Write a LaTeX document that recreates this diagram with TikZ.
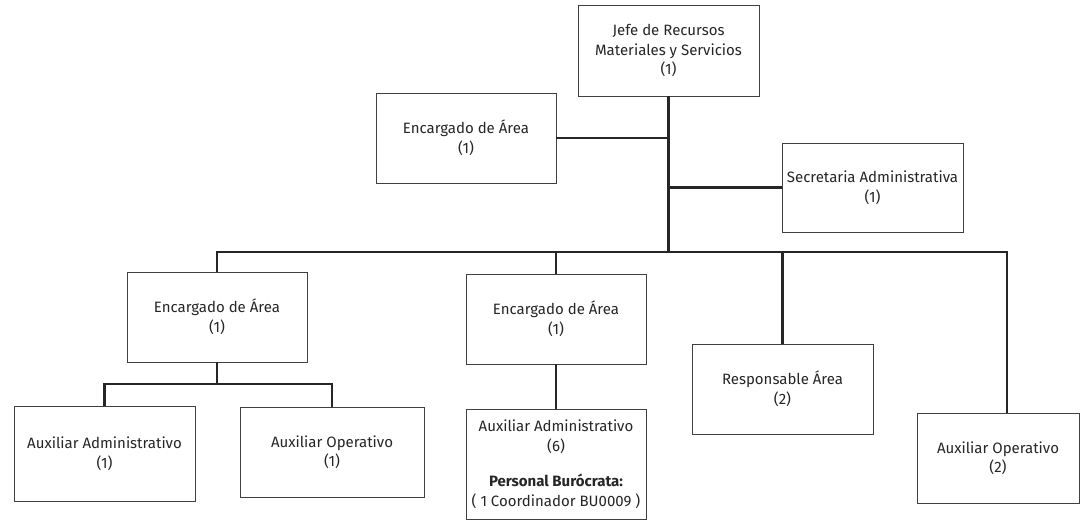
\documentclass[tikz,border=0pt]{standalone}
\usepackage{fontspec}
\setmainfont{Fira Sans}
\begin{document}
\begin{tikzpicture}[x=1pt,y=-1pt,
  box/.style={draw=black!75, line width=0.9pt, rectangle, align=center, font=\fontsize{15}{19.5}\selectfont, text=black!85, inner sep=0pt},
  conn/.style={draw=black!85, line width=2.2pt}]
\useasboundingbox[fill=white] (0,0) rectangle (1082,521);
\node[box, minimum width=181pt, minimum height=91pt] (jefe) at (668.5,50.5) {Jefe de Recursos\\Materiales y Servicios\\(1)};
\node[box, minimum width=180pt, minimum height=90pt] (encA) at (466,138) {Encargado de Área\\(1)};
\node[box, minimum width=181pt, minimum height=89pt] (secre) at (872.5,187.5) {Secretaria Administrativa\\(1)};
\node[box, minimum width=180pt, minimum height=90pt] (encL) at (217,317) {Encargado de Área\\(1)};
\node[box, minimum width=180pt, minimum height=90pt] (encM) at (556,319) {Encargado de Área\\(1)};
\node[box, minimum width=181pt, minimum height=90pt] (resp) at (782.5,389) {Responsable Área\\(2)};
\node[box, minimum width=162pt, minimum height=90pt] (auxOp2) at (998,458) {Auxiliar Operativo\\(2)};
\node[box, minimum width=181pt, minimum height=95pt] (auxAdm1) at (104.5,453.5) {Auxiliar Administrativo\\(1)};
\node[box, minimum width=184pt, minimum height=90pt] (auxOp1) at (332,452) {Auxiliar Operativo\\(1)};
\node[box, minimum width=180pt, minimum height=110pt] (auxAdm6) at (556,464) {Auxiliar Administrativo\\(6)\\[16pt]\textbf{Personal Burócrata:}\\( 1 Coordinador BU0009 )};
\coordinate (bus) at (668.5,252);
\coordinate (busR) at (1007,252);
\coordinate (sub) at (217,384);
\draw[conn] (jefe.south) -- (bus);
\draw[conn] (encA.east) -- (encA.east -| jefe.south);
\draw[conn] (secre.west) -- (secre.west -| jefe.south);
\draw[conn] (encL.north) |- (busR) -- (busR |- auxOp2.north);
\draw[conn] (encM.north) -- (encM.north |- bus);
\draw[conn] (resp.north) -- (resp.north |- bus);
\draw[conn] (encL.south) -- (sub);
\draw[conn] (auxAdm1.north) |- (sub) -| (auxOp1.north);
\draw[conn] (encM.south) -- (auxAdm6.north);
\end{tikzpicture}
\end{document}
